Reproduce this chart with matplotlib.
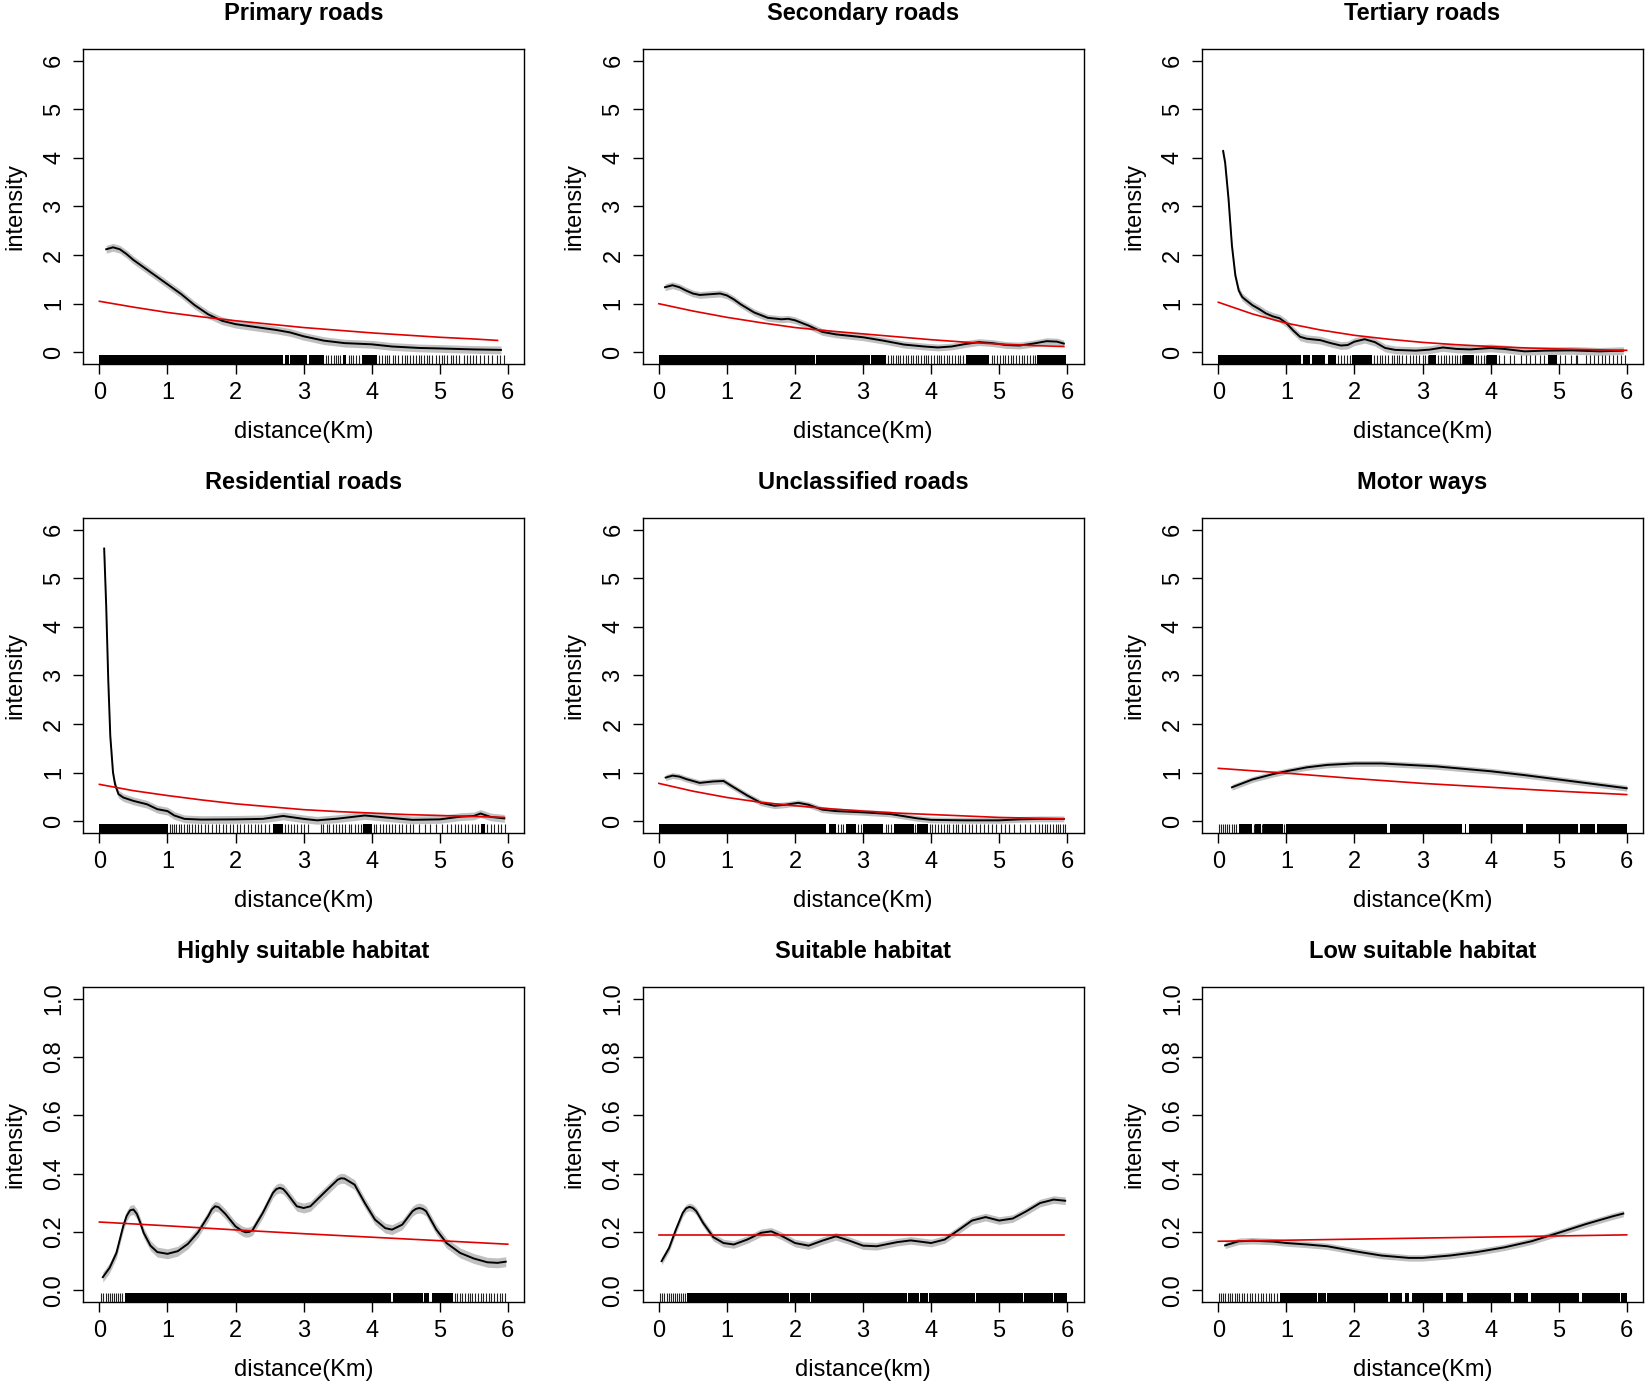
import matplotlib
matplotlib.use('Agg')
import matplotlib.pyplot as plt

plt.rcParams['font.family'] = ['Liberation Sans', 'DejaVu Sans']

# ---- Primary roads
prim_x = [0.1, 0.2, 0.3, 0.4, 0.5, 0.7, 1.0, 1.2, 1.4, 1.6, 1.8, 2.0, 2.3, 2.6, 2.8, 3.0, 3.3, 3.6, 4.0, 4.3, 4.7, 5.0, 5.5, 5.9]
prim_y = [2.12, 2.16, 2.12, 2.02, 1.90, 1.70, 1.40, 1.20, 0.97, 0.78, 0.65, 0.58, 0.52, 0.46, 0.41, 0.33, 0.24, 0.19, 0.165, 0.12, 0.09, 0.08, 0.06, 0.05]
prim_fit_x = [0, 0.5, 1, 1.5, 2, 2.5, 3, 3.5, 4, 4.5, 5, 5.5, 5.85]
prim_fit_y = [1.05, 0.93, 0.82, 0.73, 0.65, 0.58, 0.51, 0.455, 0.40, 0.355, 0.31, 0.275, 0.245]
prim_rug_spans = [(0, 2.70), (2.72, 2.78), (2.80, 3.05), (3.08, 3.30), (3.58, 3.63), (3.86, 4.08)]
prim_rug = [3.33, 3.36, 3.40, 3.44, 3.47, 3.51, 3.54, 3.66, 3.70, 3.73, 3.77, 3.81, 4.11, 4.15, 4.19, 4.23,
            4.26, 4.31, 4.35, 4.39, 4.44, 4.49, 4.52, 4.57, 4.61, 4.65, 4.69, 4.72, 4.77, 4.82, 4.85, 4.89,
            4.94, 4.99, 5.03, 5.07, 5.11, 5.16, 5.19, 5.24, 5.29, 5.35, 5.40, 5.44, 5.49, 5.54, 5.59, 5.65,
            5.71, 5.77, 5.84, 5.89, 5.95]

# ---- Secondary roads
sec_x = [0.09, 0.2, 0.3, 0.4, 0.5, 0.6, 0.8, 0.9, 1.0, 1.1, 1.2, 1.4, 1.6, 1.8, 1.9, 2.0, 2.2, 2.4, 2.6, 2.8, 3.0, 3.3, 3.6,
         3.9, 4.1, 4.3, 4.5, 4.7, 4.9, 5.1, 5.3, 5.5, 5.7, 5.85, 5.95]
sec_y = [1.34, 1.38, 1.34, 1.27, 1.21, 1.18, 1.20, 1.21, 1.17, 1.09, 0.99, 0.82, 0.71, 0.68, 0.69, 0.66, 0.55, 0.42, 0.37, 0.34,
         0.31, 0.24, 0.16, 0.12, 0.10, 0.12, 0.17, 0.21, 0.19, 0.15, 0.14, 0.18, 0.23, 0.22, 0.18]
sec_fit_x = [0, 0.5, 1, 1.5, 2, 2.5, 3, 3.5, 4, 4.5, 5, 5.5, 5.95]
sec_fit_y = [1.0, 0.85, 0.72, 0.61, 0.51, 0.44, 0.38, 0.32, 0.26, 0.21, 0.17, 0.14, 0.12]
sec_rug_spans = [(0, 2.29), (2.31, 3.10), (3.12, 3.33), (4.52, 4.85), (5.55, 5.98)]
sec_rug = [3.37, 3.41, 3.44, 3.48, 3.52, 3.55, 3.59, 3.63, 3.66, 3.70, 3.74, 3.78, 3.81, 3.85, 3.89, 3.93,
           3.96, 4.00, 4.04, 4.08, 4.11, 4.15, 4.19, 4.23, 4.27, 4.31, 4.35, 4.39, 4.43, 4.47, 4.89, 4.93,
           4.97, 5.01, 5.05, 5.09, 5.13, 5.17, 5.21, 5.25, 5.29, 5.33, 5.37, 5.41, 5.45, 5.49, 5.53]

# ---- Tertiary roads
ter_x = [0.07, 0.1, 0.15, 0.2, 0.25, 0.3, 0.35, 0.4, 0.5, 0.6, 0.7, 0.8, 0.9, 1.0, 1.1, 1.2, 1.3, 1.5, 1.65,
         1.8, 1.9, 2.0, 2.15, 2.3, 2.45, 2.6, 2.9, 3.1, 3.3, 3.5, 3.7, 4.0, 4.2, 4.5, 4.8, 5.2, 5.6, 5.95]
ter_y = [4.14, 3.90, 3.15, 2.19, 1.58, 1.27, 1.14, 1.08, 0.97, 0.89, 0.80, 0.74, 0.70, 0.60, 0.45, 0.32,
         0.28, 0.25, 0.19, 0.14, 0.15, 0.22, 0.27, 0.21, 0.09, 0.05, 0.035, 0.055, 0.10, 0.07, 0.06, 0.09,
         0.07, 0.02, 0.035, 0.04, 0.02, 0.035]
ter_fit_x = [0, 0.5, 1, 1.5, 2, 2.5, 3, 3.5, 4, 4.5, 5, 5.5, 6]
ter_fit_y = [1.03, 0.79, 0.60, 0.46, 0.35, 0.27, 0.205, 0.157, 0.12, 0.092, 0.07, 0.054, 0.041]
ter_rug_spans = [(0, 1.22), (1.24, 1.34), (1.38, 1.57), (1.61, 1.73), (1.97, 2.26), (3.10, 3.20),
                 (3.60, 3.75), (3.95, 4.10), (4.84, 4.98)]
ter_rug = [1.76, 1.80, 1.85, 1.89, 1.93, 2.29, 2.33, 2.37, 2.41, 2.45, 2.50, 2.55, 2.58, 2.62, 2.66, 2.70,
           2.76, 2.82, 2.86, 2.90, 2.95, 3.00, 3.04, 3.08, 3.23, 3.27, 3.31, 3.35, 3.39, 3.43, 3.47, 3.51,
           3.55, 3.58, 3.78, 3.82, 3.86, 3.90, 3.93, 4.12, 4.20, 4.28, 4.35, 4.45, 4.52, 4.58, 4.65, 4.72,
           4.78, 5.02, 5.10, 5.18, 5.26, 5.27, 5.40, 5.46, 5.52, 5.58, 5.63, 5.68, 5.74, 5.80, 5.86, 5.92, 5.97]

# ---- Residential roads
res_x = [0.07, 0.1, 0.13, 0.16, 0.2, 0.23, 0.28, 0.35, 0.5, 0.7, 0.85, 1.0, 1.1, 1.25, 1.5, 2.0, 2.4, 2.7,
         3.0, 3.2, 3.5, 3.9, 4.2, 4.6, 5.0, 5.3, 5.5, 5.6, 5.75, 5.95]
res_y = [5.61, 4.42, 2.91, 1.75, 1.0, 0.76, 0.56, 0.49, 0.42, 0.35, 0.25, 0.21, 0.12, 0.05, 0.035, 0.04,
         0.05, 0.11, 0.05, 0.02, 0.055, 0.12, 0.08, 0.03, 0.04, 0.095, 0.11, 0.16, 0.09, 0.06]
res_fit_x = [0, 0.5, 1, 1.5, 2, 2.5, 3, 3.5, 4, 4.5, 5, 5.5, 5.95]
res_fit_y = [0.76, 0.63, 0.53, 0.44, 0.36, 0.30, 0.24, 0.20, 0.17, 0.14, 0.12, 0.10, 0.08]
res_rug_spans = [(0, 1.01), (2.55, 2.70), (3.87, 4.00), (5.60, 5.66)]
res_rug = [1.04, 1.07, 1.10, 1.13, 1.17, 1.20, 1.24, 1.28, 1.32, 1.36, 1.41, 1.45, 1.50, 1.55, 1.60, 1.66,
           1.71, 1.76, 1.81, 1.86, 1.92, 1.97, 2.02, 2.07, 2.12, 2.18, 2.23, 2.28, 2.33, 2.38, 2.44, 2.49,
           2.73, 2.77, 2.82, 2.86, 2.91, 2.96, 3.01, 3.06, 3.25, 3.29, 3.34, 3.38, 3.43, 3.47, 3.52, 3.57,
           3.61, 3.66, 3.70, 3.75, 3.80, 3.84, 4.03, 4.07, 4.12, 4.16, 4.21, 4.26, 4.30, 4.35, 4.40, 4.45,
           4.50, 4.56, 4.61, 4.70, 4.78, 4.86, 4.95, 5.03, 5.10, 5.16, 5.22, 5.27, 5.32, 5.37, 5.42, 5.47,
           5.52, 5.56, 5.70, 5.75, 5.80, 5.85, 5.90, 5.96]

# ---- Unclassified roads
unc_x = [0.1, 0.2, 0.3, 0.4, 0.6, 0.8, 0.95, 1.1, 1.3, 1.5, 1.7, 1.85, 2.05, 2.2, 2.4, 2.6, 3.0, 3.4, 3.8, 4.0,
         4.5, 5.0, 5.3, 5.6, 5.95]
unc_y = [0.90, 0.94, 0.92, 0.87, 0.79, 0.82, 0.83, 0.70, 0.53, 0.38, 0.32, 0.34, 0.38, 0.34, 0.24, 0.21, 0.185,
         0.15, 0.06, 0.03, 0.02, 0.02, 0.04, 0.05, 0.05]
unc_fit_x = [0, 0.5, 1, 1.5, 2, 2.5, 3, 3.5, 4, 4.5, 5, 5.5, 5.95]
unc_fit_y = [0.78, 0.62, 0.49, 0.39, 0.32, 0.26, 0.21, 0.17, 0.14, 0.11, 0.08, 0.065, 0.05]
unc_rug_spans = [(0, 2.45), (2.50, 2.60), (2.75, 2.90), (3.00, 3.30), (3.45, 3.75), (3.80, 3.95)]
unc_rug = [2.63, 2.67, 2.71, 2.93, 2.97, 3.33, 3.37, 3.41, 3.77, 3.98, 4.02, 4.06, 4.10, 4.14, 4.19, 4.23,
           4.27, 4.32, 4.36, 4.40, 4.45, 4.50, 4.55, 4.60, 4.66, 4.72, 4.78, 4.84, 4.90, 4.96, 5.02, 5.08,
           5.15, 5.22, 5.30, 5.38, 5.46, 5.53, 5.58, 5.63, 5.67, 5.71, 5.75, 5.79, 5.83, 5.87, 5.90, 5.94, 5.97]

# ---- Motor ways
mot_x = [0.2, 0.5, 0.8, 1.0, 1.3, 1.6, 2.0, 2.4, 2.8, 3.2, 3.6, 4.0, 4.5, 5.0, 5.5, 6.0]
mot_y = [0.70, 0.86, 0.97, 1.03, 1.11, 1.16, 1.19, 1.19, 1.16, 1.13, 1.08, 1.03, 0.95, 0.86, 0.77, 0.68]
mot_fit_x = [0, 1, 2, 3, 4, 5, 6]
mot_fit_y = [1.09, 0.99, 0.88, 0.78, 0.70, 0.62, 0.55]
mot_rug_spans = [(0.30, 0.50), (0.54, 0.62), (0.66, 0.95), (1.0, 2.48), (2.52, 3.58), (3.62, 3.64),
                 (3.68, 4.48), (4.52, 5.28), (5.32, 5.53), (5.57, 6.0)]
mot_rug = [0.01, 0.04, 0.07, 0.10, 0.13, 0.16, 0.20, 0.23, 0.26, 0.52, 0.64, 0.97]

# ---- Highly suitable habitat
hsh_x = [0.05, 0.15, 0.25, 0.35, 0.4, 0.45, 0.5, 0.55, 0.6, 0.65, 0.75, 0.85, 1.0, 1.15, 1.3, 1.45, 1.6, 1.65,
         1.7, 1.75, 1.85, 2.0, 2.1, 2.15, 2.2, 2.25, 2.4, 2.55, 2.6, 2.65, 2.7, 2.75, 2.9, 3.0, 3.1, 3.3, 3.5,
         3.55, 3.6, 3.75, 3.9, 4.05, 4.2, 4.3, 4.45, 4.6, 4.65, 4.7, 4.75, 4.8, 4.95, 5.1, 5.3, 5.5, 5.7,
         5.85, 5.97]
hsh_y = [0.045, 0.077, 0.128, 0.22, 0.255, 0.274, 0.277, 0.262, 0.232, 0.197, 0.153, 0.131, 0.125, 0.134,
         0.159, 0.199, 0.255, 0.277, 0.288, 0.285, 0.262, 0.219, 0.203, 0.199, 0.2, 0.206, 0.265, 0.334,
         0.347, 0.351, 0.347, 0.334, 0.288, 0.282, 0.288, 0.334, 0.379, 0.384, 0.383, 0.362, 0.299, 0.242,
         0.213, 0.208, 0.225, 0.271, 0.279, 0.282, 0.279, 0.271, 0.208, 0.162, 0.128, 0.109, 0.096, 0.094,
         0.098]
hsh_fit_x = [0, 1, 2, 3, 4, 5, 6]
hsh_fit_y = [0.234, 0.221, 0.207, 0.194, 0.182, 0.170, 0.158]
hsh_rug_spans = [(0.37, 4.29), (4.31, 4.75), (4.77, 4.85), (4.88, 5.19)]
hsh_rug = [0.02, 0.06, 0.09, 0.12, 0.15, 0.18, 0.21, 0.24, 0.27, 0.30, 0.33, 5.22, 5.26, 5.30, 5.33, 5.37,
           5.41, 5.45, 5.48, 5.52, 5.56, 5.60, 5.64, 5.68, 5.72, 5.76, 5.80, 5.84, 5.88, 5.92, 5.96]

# ---- Suitable habitat
suh_x = [0.04, 0.15, 0.25, 0.35, 0.4, 0.45, 0.5, 0.55, 0.65, 0.8, 0.95, 1.1, 1.3, 1.5, 1.65, 1.8, 2.0, 2.2,
         2.4, 2.6, 2.8, 3.0, 3.2, 3.5, 3.7, 4.0, 4.2, 4.4, 4.6, 4.8, 5.0, 5.2, 5.4, 5.6, 5.8, 5.97]
suh_y = [0.10, 0.145, 0.208, 0.265, 0.281, 0.286, 0.282, 0.271, 0.231, 0.182, 0.162, 0.157, 0.174, 0.197,
         0.202, 0.187, 0.162, 0.153, 0.170, 0.185, 0.170, 0.153, 0.151, 0.165, 0.171, 0.162, 0.174, 0.206,
         0.239, 0.251, 0.239, 0.246, 0.271, 0.299, 0.311, 0.307]
suh_fit_x = [0, 5.95]
suh_fit_y = [0.191, 0.191]
suh_rug_spans = [(0.42, 1.91), (1.93, 2.22), (2.24, 3.64), (3.66, 3.82), (3.84, 3.95), (3.97, 4.64),
                 (4.66, 5.35), (5.37, 5.79), (5.81, 6.0)]
suh_rug = [0.01, 0.05, 0.08, 0.12, 0.15, 0.18, 0.21, 0.24, 0.27, 0.30, 0.33, 0.36, 0.39]

# ---- Low suitable habitat
lsh_x = [0.1, 0.3, 0.5, 0.8, 1.0, 1.3, 1.6, 2.0, 2.4, 2.8, 3.0, 3.4, 3.8, 4.2, 4.6, 5.0, 5.4, 5.8, 5.95]
lsh_y = [0.154, 0.168, 0.170, 0.167, 0.162, 0.157, 0.151, 0.134, 0.119, 0.111, 0.111, 0.119, 0.131, 0.147,
         0.168, 0.197, 0.227, 0.254, 0.263]
lsh_fit_x = [0, 6]
lsh_fit_y = [0.168, 0.190]
lsh_rug_spans = [(0.90, 1.45), (1.47, 1.58), (1.60, 2.50), (2.52, 2.70), (2.75, 2.80), (2.85, 3.30),
                 (3.35, 3.60), (3.65, 4.30), (4.35, 4.55), (4.60, 5.30), (5.35, 5.90), (5.92, 6.0)]
lsh_rug = [0.01, 0.04, 0.07, 0.10, 0.14, 0.17, 0.20, 0.24, 0.28, 0.31, 0.35, 0.38, 0.42, 0.46, 0.50, 0.54,
           0.58, 0.62, 0.66, 0.70, 0.74, 0.78, 0.82, 0.86]

titles = ['Primary roads', 'Secondary roads', 'Tertiary roads',
          'Residential roads', 'Unclassified roads', 'Motor ways',
          'Highly suitable habitat', 'Suitable habitat', 'Low suitable habitat']
xlabels = ['distance(Km)'] * 7 + ['distance(km)', 'distance(Km)']
ci_half = [0.08, 0.07, 0.08, 0.08, 0.06, 0.06, 0.017, 0.013, 0.011]

curves = [(prim_x, prim_y), (sec_x, sec_y), (ter_x, ter_y), (res_x, res_y), (unc_x, unc_y),
          (mot_x, mot_y), (hsh_x, hsh_y), (suh_x, suh_y), (lsh_x, lsh_y)]
fits = [(prim_fit_x, prim_fit_y), (sec_fit_x, sec_fit_y), (ter_fit_x, ter_fit_y), (res_fit_x, res_fit_y),
        (unc_fit_x, unc_fit_y), (mot_fit_x, mot_fit_y), (hsh_fit_x, hsh_fit_y), (suh_fit_x, suh_fit_y),
        (lsh_fit_x, lsh_fit_y)]
rugs = [(prim_rug_spans, prim_rug), (sec_rug_spans, sec_rug), (ter_rug_spans, ter_rug),
        (res_rug_spans, res_rug), (unc_rug_spans, unc_rug), (mot_rug_spans, mot_rug),
        (hsh_rug_spans, hsh_rug), (suh_rug_spans, suh_rug), (lsh_rug_spans, lsh_rug)]

road_ticks = [0, 1, 2, 3, 4, 5, 6]
hab_ticks = [0.0, 0.2, 0.4, 0.6, 0.8, 1.0]
hab_ticklabels = ['0.0', '0.2', '0.4', '0.6', '0.8', '1.0']
x_ticks = [0, 1, 2, 3, 4, 5, 6]

fig = plt.figure(figsize=(16.45, 13.83), dpi=100)
col_left = [0.0505, 0.3906, 0.7307]
row_bottom = [0.7368, 0.3977, 0.0586]
w, h = 0.2681, 0.2278
fs = 17

for i in range(9):
    r, c = divmod(i, 3)
    ax = fig.add_axes([col_left[c], row_bottom[r], w, h])
    cx, cy = curves[i]
    lo = [v - ci_half[i] for v in cy]
    hi = [v + ci_half[i] for v in cy]
    ax.fill_between(cx, lo, hi, color='#c0c0c0', lw=0, zorder=1)
    ax.plot(cx, cy, color='black', lw=1.4, zorder=2)
    fx, fy = fits[i]
    ax.plot(fx, fy, color='#e00000', lw=1.2, zorder=3)

    # rug: dense stretches as blocks, sparse points as single ticks
    spans, ticks = rugs[i]
    for a, b in spans:
        ax.axvspan(a, b, ymin=0, ymax=0.03, color='black', lw=0, zorder=4)
    ax.vlines(ticks, 0, 0.03, transform=ax.get_xaxis_transform(), color='#222222', lw=0.8, zorder=4)

    ax.set_xlim(-0.24, 6.24)
    ax.set_xticks(x_ticks)
    if r < 2:
        ax.set_ylim(-0.24, 6.24)
        ax.set_yticks(road_ticks)
    else:
        ax.set_ylim(-0.04, 1.04)
        ax.set_yticks(hab_ticks)
        ax.set_yticklabels(hab_ticklabels)

    ax.tick_params(direction='out', length=7, width=1, labelsize=fs, pad=6, color='black')
    for lbl in ax.get_yticklabels():
        lbl.set_rotation(90)
        lbl.set_verticalalignment('center')
    for s in ax.spines.values():
        s.set_linewidth(1.0)
        s.set_color('black')

    ax.set_title(titles[i], fontsize=fs, fontweight='bold', pad=21)
    ax.set_xlabel(xlabels[i], fontsize=fs, labelpad=12)
    ax.set_ylabel('intensity', fontsize=fs, labelpad=12)

fig.savefig('out.png', dpi=100)
